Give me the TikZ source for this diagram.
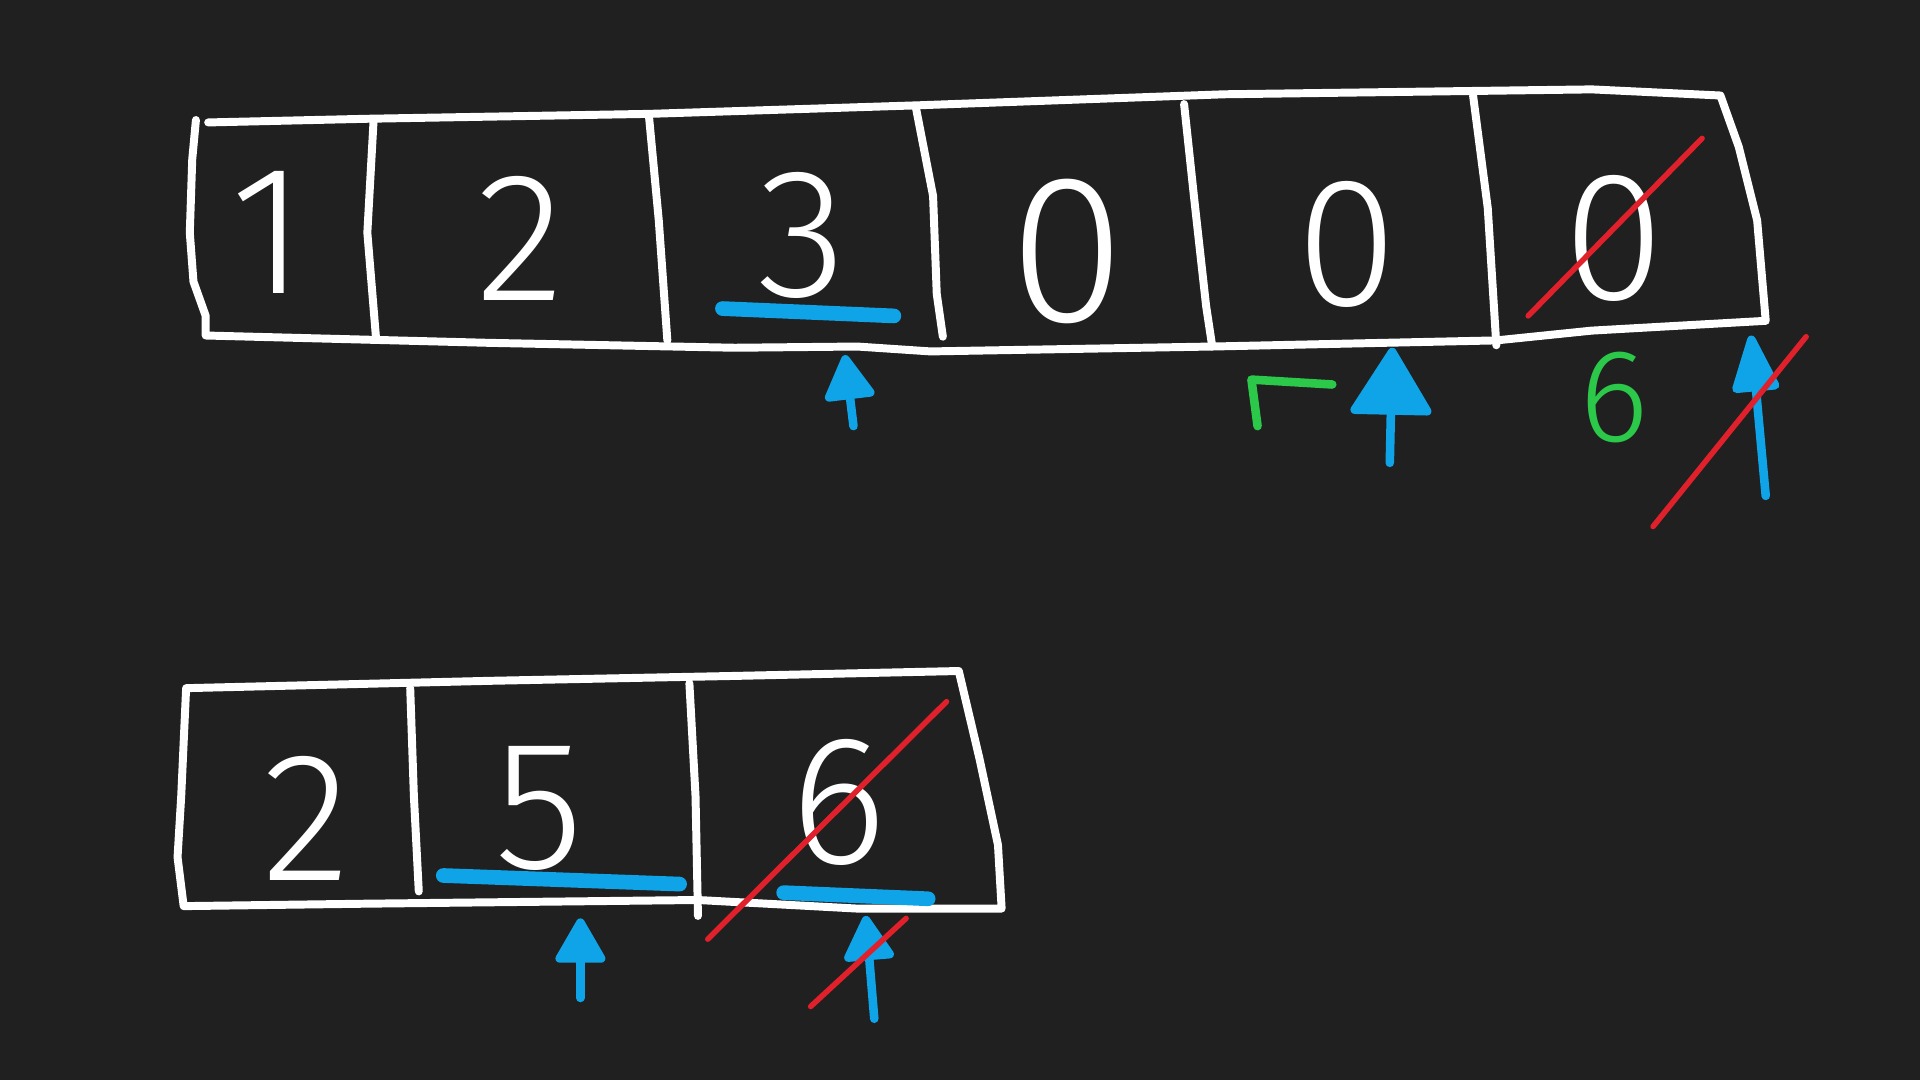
\documentclass[tikz,border=0pt]{standalone}
\usepackage{fontspec}
\setmainfont{Fira Sans Light}
\usepackage{xcolor}
\usepackage{tikz}
\usetikzlibrary{arrows.meta}
\definecolor{board}{HTML}{202020}
\definecolor{penblue}{HTML}{0FA3E8}
\definecolor{penred}{HTML}{E0202A}
\definecolor{pengreen}{HTML}{2CC84A}

\begin{document}
\begin{tikzpicture}[x=1pt,y=-1pt]
        \tikzstyle{every node}=[inner sep=0pt]
        \tikzstyle{chalk}=[white,line width=6.5pt,line join=round,line cap=round]
        \tikzstyle{digit}=[text=white,font=\fontsize{150}{150}\selectfont]
        \tikzstyle{bigdigit}=[text=white,font=\fontsize{172}{172}\selectfont]
        \tikzstyle{note}=[text=pengreen,font=\fontsize{108}{108}\selectfont]
        \tikzstyle{hilite}=[penblue,line width=12pt,line cap=round]
        \tikzstyle{strike}=[penred,line width=4.5pt,line cap=round]
        \tikzstyle{pointer}=[penblue,line width=7pt,line cap=round,-{Triangle[width=44pt,length=40pt,round]}]
        \tikzstyle{bigpointer}=[pointer,-{Triangle[width=70pt,length=58pt,round]}]
        \tikzstyle{tallpointer}=[pointer,-{Triangle[width=40pt,length=52pt,round]}]
        \fill[board] (0,0) rectangle (1568,882);
        \useasboundingbox (0,0) rectangle (1568,882);
        % first array
        \draw[chalk] (160,98) -- (157,130) -- (155,190) -- (158,230) -- (168,258) -- (168,274)
            -- (400,280) -- (600,284) -- (700,283) -- (760,287) -- (990,283) -- (1222,278)
            -- (1300,270) -- (1442,262) -- (1435,180) -- (1420,120) -- (1405,78)
            -- (1300,73) -- (1000,77) -- (750,86) -- (530,93) -- (300,97) -- (170,100);
        \draw[chalk] (305,100) -- (300,190) -- (307,275);
        \draw[chalk] (530,95) -- (538,180) -- (545,278);
        \draw[chalk] (748,88) -- (762,160) -- (765,240) -- (770,275);
        \draw[chalk] (967,85) -- (975,160) -- (985,250) -- (990,283);
        \draw[chalk] (1203,78) -- (1215,170) -- (1222,282);
        \node[digit] (a1) at (219,190) {1};
        \node[digit] (a2) at (425,195) {2};
        \node[digit] (a3) at (655,192) {3};
        \node[bigdigit] (a4) at (872,205) {0};
        \node[digit] (a5) at (1100,200) {0};
        \node[digit] (a6) at (1318,195) {0};
        \draw[hilite] (590,252) -- (730,258);
        \draw[strike] (1248,258) -- (1390,113);
        % pointers under first array
        \coordinate (p1tail) at (697,348);
        \coordinate (p1tip) at (690,290);
        \draw[pointer] (p1tail) -- (p1tip);
        \coordinate (p2tail) at (1135,378);
        \coordinate (p2tip) at (1137,284);
        \draw[bigpointer] (p2tail) -- (p2tip);
        \coordinate (p3tail) at (1442,405);
        \coordinate (p3tip) at (1430,274);
        \draw[tallpointer] (p3tail) -- (p3tip);
        \draw[strike] (1350,430) -- (1475,275);
        \draw[pengreen,line width=7pt,line join=round,line cap=round] (1027,348) -- (1022,310) -- (1088,314);
        \node[note] (n6) at (1318,325) {6};
        % second array
        \draw[chalk] (152,562) -- (148,650) -- (145,700) -- (150,740) -- (300,738) -- (570,735)
            -- (700,742) -- (818,742) -- (815,690) -- (800,620) -- (783,548)
            -- (600,552) -- (400,556) -- cycle;
        \draw[chalk] (335,562) -- (338,650) -- (342,728);
        \draw[chalk] (563,558) -- (568,650) -- (570,748);
        \node[digit] (b1) at (250,668) {2};
        \node[digit] (b2) at (440,660) {5};
        \node[digit] (b3) at (685,655) {6};
        \draw[hilite] (362,715) -- (555,722);
        \draw[hilite] (640,729) -- (758,734);
        \draw[strike] (578,767) -- (773,573);
        \coordinate (q1tail) at (474,815);
        \coordinate (q1tip) at (474,750);
        \draw[pointer] (q1tail) -- (q1tip);
        \coordinate (q2tail) at (714,832);
        \coordinate (q2tip) at (707,748);
        \draw[pointer] (q2tail) -- (q2tip);
        \draw[strike] (662,822) -- (740,750);
    \end{tikzpicture}
\end{document}
